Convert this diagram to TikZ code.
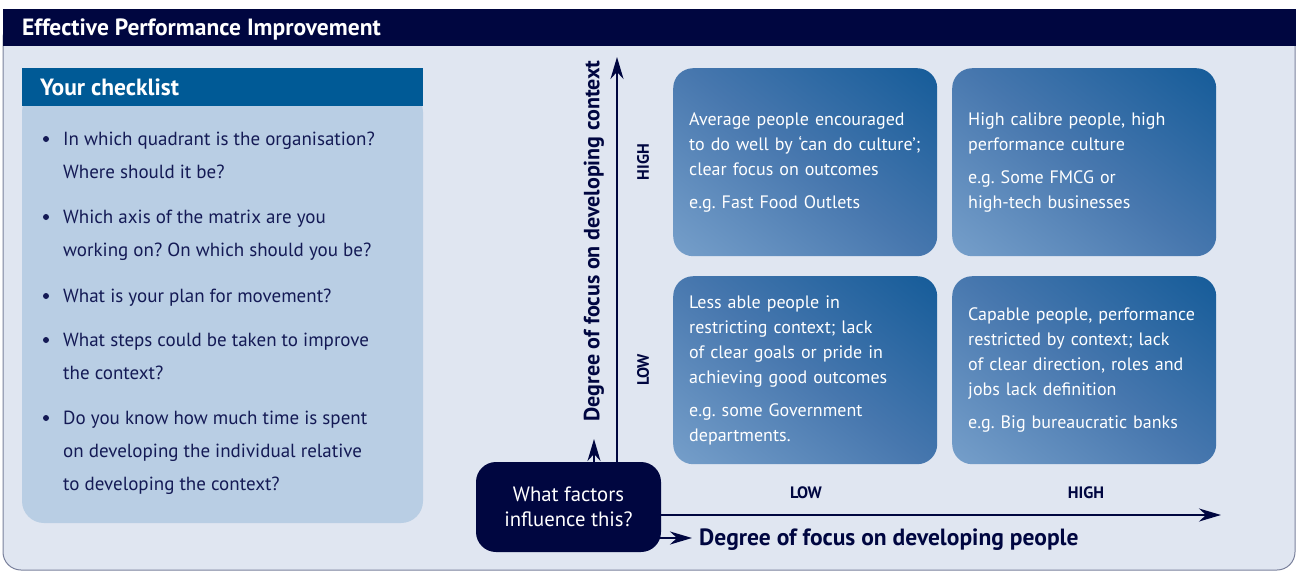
\documentclass[tikz,border=0pt]{standalone}
\usepackage{fontspec}
\setmainfont{PT Sans}
\usetikzlibrary{arrows.meta}
\frenchspacing
\hyphenpenalty=10000
\definecolor{navy}{HTML}{000640}
\definecolor{ink}{HTML}{141A55}
\definecolor{bgc}{HTML}{E0E6F1}
\definecolor{hdr}{HTML}{005A96}
\definecolor{body}{HTML}{B9CEE4}
\definecolor{qdark}{HTML}{005090}
\definecolor{qmid}{HTML}{4777AE}
\definecolor{qlight}{HTML}{8AB0D6}
\definecolor{framec}{HTML}{7A819C}
\pgfdeclarehorizontalshading{quadsh}{100bp}{color(0bp)=(qlight); color(50bp)=(qmid); color(100bp)=(qdark)}
\tikzset{
  quad/.style={shading=quadsh, shading angle=52,
    rounded corners=20pt, minimum width=264pt, minimum height=188pt,
    text width=232pt, inner xsep=16pt, inner ysep=0pt, align=left,
    text=white, font=\fontsize{18}{25}\selectfont, anchor=north west},
  axisline/.style={draw=navy, line width=2pt,
    -{Stealth[length=22pt, width=13pt, inset=7pt]}},
  bul/.style={anchor=base west, text=ink, font=\fontsize{19}{33}\selectfont,
    inner sep=0pt, align=left},
  dot/.style={circle, fill=ink, inner sep=0pt, minimum size=6pt},
  lvl/.style={text=navy, font=\bfseries\fontsize{16.5}{18}\selectfont, inner sep=0pt},
}
\begin{document}
\begin{tikzpicture}[x=1pt,y=-1pt]
\useasboundingbox (0,0) rectangle (1296,571);
% frame
\path[fill=bgc, draw=framec, line width=1pt, rounded corners=18pt] (3,20) rectangle (1295,570);
\fill[navy] (3,9) rectangle (1296,46);
\node[anchor=base west, text=white, font=\bfseries\fontsize{23.5}{26}\selectfont, inner sep=0pt] (title) at (22,35) {Effective Performance Improvement};
% checklist
\fill[body, rounded corners=22pt] (22,90) rectangle (423,523);
\fill[hdr] (22,68) rectangle (423,106);
\node[anchor=base west, text=white, font=\bfseries\fontsize{23.5}{26}\selectfont, inner sep=0pt] (chk) at (40,95) {Your checklist};
\foreach \yb/\yl/\t [count=\i] in {138/171/{In which quadrant is the organisation?\\Where should it be?},
  216/249/{Which axis of the matrix are you\\working on? On which should you be?},
  295/295/{What is your plan for movement?},
  339/372/{What steps could be taken to improve\\the context?},
  417/483/{Do you know how much time is spent\\on developing the individual relative\\to developing the context?}}{
  \node[dot] (b\i) at (46,\yb+1) {};
  \node[bul] (it\i) at (63,\yl+7) {\t};
}
% quadrants
\node[quad] (tl) at (673,68) {Average people encouraged\\to do well by ‘can do culture’;\\clear focus on outcomes\\[8pt]e.g. Fast Food Outlets};
\node[quad] (tr) at (952,68) {High calibre people, high\\performance culture\\[8pt]e.g. Some FMCG or\\high-tech businesses};
\node[quad] (bl) at (673,276) {Less able people in\\restricting context; lack\\of clear goals or pride in\\achieving good outcomes\\[8pt]e.g. some Government\\departments.};
\node[quad] (br) at (952,276) {Capable people, performance\\restricted by context; lack\\of clear direction, roles and\\jobs lack definition\\[8pt]e.g. Big bureaucratic banks};
% central box
\node[fill=navy, rounded corners=20pt, minimum width=185pt, minimum height=90pt, text=white, align=center, font=\fontsize{20.7}{25}\selectfont, inner sep=0pt] (q) at (568.5,507) {What factors\\influence this?};
% axes
\coordinate (ytip) at (617,57);
\coordinate (ysm) at (594,439);
\coordinate (xtip) at (1221,515);
\coordinate (xsm) at (692,538);
\draw[axisline] (q.north -| ytip) -- (ytip);
\draw[axisline] (q.north -| ysm) -- (ysm);
\draw[axisline] (q.east |- xtip) -- (xtip);
\draw[axisline] ([xshift=-8pt]q.east |- xsm) -- (xsm);
% axis labels
\node[rotate=90, text=navy, font=\bfseries\fontsize{22}{24}\selectfont, inner sep=0pt] (ylab) at (594,241) {Degree of focus on developing context};
\node[anchor=west, text=navy, font=\bfseries\fontsize{23.5}{26}\selectfont, inner sep=0pt] (xlab) at (699,540) {Degree of focus on developing people};
\node[lvl, rotate=90] (yhigh) at (643,162) {HIGH};
\node[lvl, rotate=90] (ylow) at (643,370) {LOW};
\node[lvl] (xlow) at (806,493) {LOW};
\node[lvl] (xhigh) at (1086,493) {HIGH};
\end{tikzpicture}
\end{document}
